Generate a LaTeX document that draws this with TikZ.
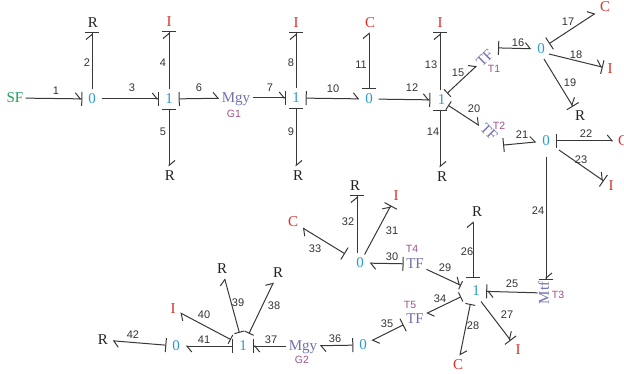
\documentclass[tikz,border=0pt]{standalone}
\usepackage{fontspec}
\setmainfont{Liberation Serif}
\setsansfont{Liberation Sans}
\definecolor{elR}{HTML}{222222}
\definecolor{elI}{HTML}{D9302C}
\definecolor{junc}{HTML}{2A9BD3}
\definecolor{src}{HTML}{1E9E5A}
\definecolor{conv}{HTML}{6F6FAE}
\definecolor{tag}{HTML}{A2508F}
\definecolor{num}{HTML}{333333}
\usetikzlibrary{arrows.meta}
\tikzset{
  el/.style={font=\fontsize{15}{15}\selectfont,inner sep=4.5pt,text height=9.5pt,text depth=0pt},
  rel/.style={el,text=elR},
  iel/.style={el,text=elI},
  sel/.style={el,text=src,inner sep=2pt},
  cel/.style={el,text=conv,inner sep=2.5pt},
  hub/.style={circle,minimum size=19pt,inner sep=0pt,text=junc,font=\fontsize{15}{15}\selectfont},
  tagl/.style={font=\sffamily\fontsize{10.5}{11}\selectfont,text=tag,inner sep=0pt},
  lab/.style={font=\sffamily\fontsize{11}{11}\selectfont,text=num,inner sep=0pt},
  bond/.style={draw=elR!90,line width=1pt,-{Straight Barb[harpoon,length=5pt,width=12pt,sep=0pt]Bar[width=14pt,sep=0pt]}},
  cbond/.style={draw=elR!90,line width=1pt,{Bar[width=14pt]}-{Straight Barb[harpoon,length=5pt,width=12pt]}},
  sbond/.style={draw=elR!90,line width=1pt,-{Straight Barb[harpoon,length=5pt,width=12pt,sep=0pt]Bar[width=9pt,sep=0pt]}},
  scbond/.style={draw=elR!90,line width=1pt,{Bar[width=10pt]}-{Straight Barb[harpoon,length=5pt,width=12pt]}},
}
\begin{document}
\begin{tikzpicture}[x=1pt,y=-1pt]
\useasboundingbox (0,0) rectangle (624,374);
% first row
\node[sel] (sf) at (15,98) {SF};
\node[hub] (zA) at (92,99) {0};
\node[hub] (oA) at (169,99) {1};
\node[hub] (oB) at (296,98) {1};
\node[hub] (zB) at (369,99) {0};
\node[hub] (oC) at (440,100) {\hspace*{3pt}1};
\node[hub] (zC) at (541,49) {0};
\node[hub] (zD) at (546,141) {0};
\node[cel] (mgA) at (236,98) {Mgy};
\node[cel,rotate=45] (tfA) at (485,58) {TF};
\node[cel,rotate=-45] (tfB) at (489,132) {TF};
\node[rel] (e2) at (93,23) {R};
\node[iel] (e4) at (169,22) {I};
\node[rel] (e5) at (170,176) {R};
\node[iel] (e8) at (296,23) {I};
\node[rel] (e9) at (298,176) {R};
\node[iel] (e11) at (370,23) {C};
\node[iel] (e13) at (440,23) {I};
\node[rel] (e14) at (442,177) {R};
\node[iel] (e17) at (605,7) {C};
\node[iel] (e18) at (610,69) {I};
\node[rel] (e19) at (580,116) {R};
\node[iel] (e22) at (623,141) {C};
\node[iel] (e23) at (611,186) {I};
% second row
\node[hub,minimum size=26pt] (oD) at (473,291) {\hspace*{6pt}1};
\node[hub] (zE) at (360,263) {0};
\node[hub] (zF) at (363,345) {0};
\node[hub] (oE) at (243,346) {1};
\node[hub] (zG) at (176,346) {0};
\node[cel,rotate=90,inner sep=1.5pt] (mtf) at (544,293) {Mtf};
\node[cel] (tfD) at (415,264) {TF};
\node[cel] (tfE) at (415,319) {TF};
\node[cel] (mgB) at (303,346) {Mgy};
\node[rel] (e26) at (477,212) {R};
\node[iel] (e27) at (518,350) {I};
\node[iel] (e28) at (458,365) {C};
\node[iel] (e31) at (396,196) {I};
\node[rel] (e32) at (355,186) {R};
\node[iel] (e33) at (293,222) {C};
\node[rel] (e38) at (278,273) {R};
\node[rel] (e39) at (222,269) {R};
\node[iel] (e40) at (173,309) {I};
\node[rel] (e42) at (103,340) {R};
% parameter tags
\node[tagl] (gA) at (234,114) {G1};
\node[tagl] (gB) at (302,360) {G2};
\node[tagl] (tA) at (494,69) {T1};
\node[tagl] (tB) at (499,126) {T2};
\node[tagl] (tC) at (558,295) {T3};
\node[tagl] (tD) at (412,249) {T4};
\node[tagl] (tE) at (410,305) {T5};
% bonds
\foreach \u/\v in {sf/zA,zA/oA,mgA/oB,zB/oC,mtf/oD,oD/e27,zE/e31,mgB/oE}
  \draw[bond] (\u)--(\v);
\foreach \u/\v in {oA/mgA,oB/zB,zC/e17,zD/e22,tfE/zF,zF/mgB,tfD/zE,oE/zG,zG/e42}
  \draw[cbond] (\u)--(\v);
\draw[sbond] (tfD)--(oD);
\foreach \u/\v in {oC/tfA,oC/tfB,oD/e28,oD/tfE}
  \draw[scbond] (\u)--(\v);
% bonds kept upright under or over their junction
\foreach \u/\v in {zA/e2,oA/e4,oB/e8,oC/e13}
  \draw[bond] (\u)--(\u|-\v.south);
\foreach \u/\v in {oA/e5,oB/e9,oC/e14}
  \draw[cbond] (\u)--(\u|-\v.north);
\foreach \u/\v in {zB/e11,oD/e26}
  \draw[cbond] (\u)--(\u|-\v.south);
\draw[bond] ([xshift=-3pt]zE.north)--([xshift=2pt]e32.south);
% bonds that leave their junction further out
\draw[bond] ([shift={(8,5)}]zC.center)--(e18);
\draw[bond] ([shift={(3,10)}]zC.center)--([xshift=-7pt]e19.north);
\draw[bond,shorten <=6pt] (zD)--(e23);
\draw[bond,shorten <=6pt] (zD)--(zD|-mtf.east);
\foreach \v in {e38,e39,e40}
  \draw[scbond,shorten <=4pt] (oE)--(\v);
\draw[cbond,shorten <=8pt] (zE)--(e33);
\draw[cbond] ([shift={(5,-2)}]tfA.east)--(zC);
\draw[cbond] ([shift={(6,5)}]tfB.east)--(zD);
% bond numbers
\foreach \n/\x/\y in {1/56/91,2/87/63,3/132/88,4/163/63,5/163/132,6/199/88,7/270/88,8/291/63,9/291/132,10/333/89,11/361/65,12/412/88,13/431/65,14/433/132,15/458/73,16/518/43,17/568/22,18/576/55,19/570/83,20/474/109,21/522/135,22/586/134,23/581/160,24/538/211,25/512/284,26/467/252,27/507/315,28/473/326,29/445/268,30/392/257,31/392/231,32/348/222,33/315/249,34/440/299,35/387/324,36/335/339,37/271/340,38/274/306,39/238/303,40/204/315,41/204/340,42/133/335}
  \node[lab] (n\n) at (\x,\y) {\n};
\end{tikzpicture}
\end{document}
